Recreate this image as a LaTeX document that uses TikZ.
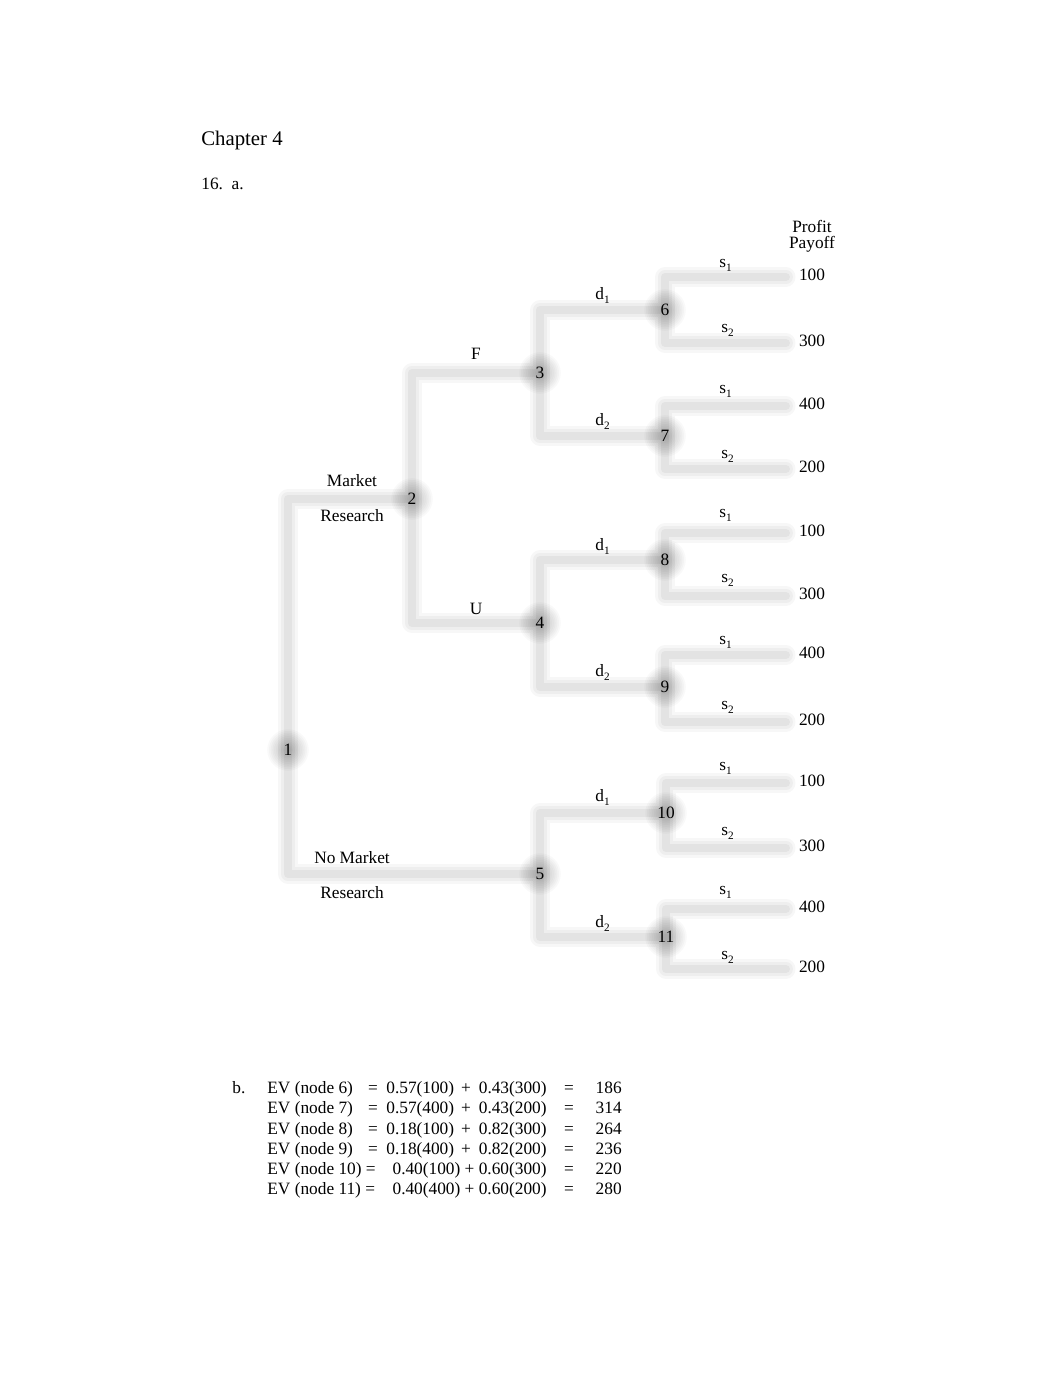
\documentclass[tikz,border=0pt]{standalone}
\usepackage{fontspec}
\setmainfont{Liberation Serif}
\usetikzlibrary{backgrounds}
\def\lo#1{\raisebox{-0.6ex}{\fontsize{6.5}{7}\selectfont #1}}
\def\blob(#1){%
  \foreach \r in {12,11,...,2} {\fill[black, opacity=0.022] (#1) circle (\r pt);}}
\tikzset{
  haloa/.style={draw=gray!6, line width=11pt, line cap=round, line join=round},
  halob/.style={draw=gray!13, line width=8pt, line cap=round, line join=round},
  core/.style={draw=gray!22, line width=4.5pt, line cap=round, line join=round},
  num/.style={anchor=center},
  lbl/.style={anchor=base west},
  mid/.style={anchor=base},
  rgt/.style={anchor=base east},
  pay/.style={anchor=center}
}
\begin{document}
\begin{tikzpicture}[x=0.02029cm, y=-0.02029cm,
  every node/.style={font=\fontsize{10}{12}\selectfont, inner sep=0pt}]
\useasboundingbox (0,0) rectangle (1062,1377);

%%%%% heading %%%%%
\node[lbl, font=\fontsize{12}{14}\selectfont] (chap) at (201,145) {Chapter 4};
\node[lbl] (part) at (201,189) {16.\ \ a.};

%%%%% tree nodes %%%%%
\node[num] (n1) at (288,750) {1};
\node[num] (n2) at (412,499) {2};
\node[num] (n3) at (540,373) {3};
\node[num] (n4) at (540,623) {4};
\node[num] (n5) at (540,874) {5};
\node[num] (n6) at (665,310) {6};
\node[num] (n7) at (665,436) {7};
\node[num] (n8) at (665,560) {8};
\node[num] (n9) at (665,687) {9};
\node[num] (n10) at (666,813) {10};
\node[num] (n11) at (666,937) {11};

% leaf ends
\coordinate (l6a) at (786,277);  \coordinate (l6b) at (786,343);
\coordinate (l7a) at (786,406);  \coordinate (l7b) at (786,469);
\coordinate (l8a) at (786,533);  \coordinate (l8b) at (786,596);
\coordinate (l9a) at (786,655);  \coordinate (l9b) at (786,722);
\coordinate (l10a) at (786,783); \coordinate (l10b) at (786,848);
\coordinate (l11a) at (786,909); \coordinate (l11b) at (786,969);

\def\links{n1/n2, n1/n5, n2/n3, n2/n4, n3/n6, n3/n7, n4/n8, n4/n9, n5/n10, n5/n11,
  n6/l6a, n6/l6b, n7/l7a, n7/l7b, n8/l8a, n8/l8b, n9/l9a, n9/l9b,
  n10/l10a, n10/l10b, n11/l11a, n11/l11b}

\begin{pgfonlayer}{background}
  \foreach \a/\b in \links \draw[haloa] (\a.center) |- (\b.center);
  \foreach \a/\b in \links \draw[halob] (\a.center) |- (\b.center);
  \foreach \a/\b in \links \draw[core] (\a.center) |- (\b.center);
  \foreach \n in {n1,n2,n3,n4,n5,n6,n7,n8,n9,n10,n11} {\blob(\n.center)}
\end{pgfonlayer}

%%%%% branch labels %%%%%
\node[pay] (mr1) at (352,481) {Market};
\node[pay] (mr2) at (352,516) {Research};
\node[pay] (nmr1) at (352,858) {No Market};
\node[pay] (nmr2) at (352,893) {Research};
\node[pay] (fav) at (476,354) {F};
\node[pay] (unf) at (476,609) {U};

\node[lbl] (d6) at (595,299) {d\lo{1}};
\node[lbl] (d7) at (595,425) {d\lo{2}};
\node[lbl] (d8) at (595,550) {d\lo{1}};
\node[lbl] (d9) at (595,676) {d\lo{2}};
\node[lbl] (d10) at (595,801) {d\lo{1}};
\node[lbl] (d11) at (595,927) {d\lo{2}};

\foreach \n/\y in {6/310, 7/436, 8/560, 9/687, 10/813, 11/937} {
  \node[lbl] (s\n a) at (719,\y-43) {s\lo{1}};
  \node[lbl] (s\n b) at (721,\y+22) {s\lo{2}};
}

%%%%% payoffs %%%%%
\node[mid] (prof) at (812,232) {Profit};
\node[mid] (payf) at (812,248) {Payoff};
\foreach \k/\y/\v in {1/275/100, 2/341/300, 3/404/400, 4/467/200,
  5/531/100, 6/594/300, 7/653/400, 8/720/200,
  9/781/100, 10/846/300, 11/907/400, 12/967/200}
  \node[pay] (p\k) at (812,\y) {\v};

%%%%% part b %%%%%
\node[lbl] (pb) at (232,1093) {b.};
\foreach \r/\y/\p/\q/\v in {6/1093/0.57(100)/0.43(300)/186, 7/1113/0.57(400)/0.43(200)/314,
  8/1134/0.18(100)/0.82(300)/264, 9/1154/0.18(400)/0.82(200)/236} {
  \node[lbl] (ev\r) at (267,\y) {EV (node \r)};
  \node[mid] (eqa\r) at (373,\y) {=};
  \node[lbl] (pa\r) at (386,\y) {\p};
  \node[mid] (pl\r) at (466,\y) {+};
  \node[rgt] (pb\r) at (547,\y) {\q};
  \node[mid] (eqb\r) at (569,\y) {=};
  \node[rgt] (val\r) at (622,\y) {\v};
}
\foreach \r/\y/\p/\v in {10/1174/0.40(100) + 0.60(300)/220, 11/1194/0.40(400) + 0.60(200)/280} {
  \node[lbl] (ev\r) at (267,\y) {EV (node \r) =};
  \node[rgt] (pa\r) at (547,\y) {\p};
  \node[mid] (eqb\r) at (569,\y) {=};
  \node[rgt] (val\r) at (622,\y) {\v};
}
\end{tikzpicture}
\end{document}
